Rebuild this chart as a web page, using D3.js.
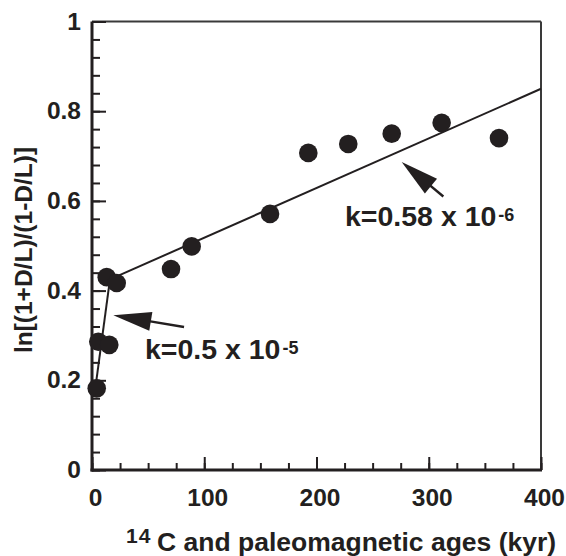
<!DOCTYPE html>
<html>
<head>
<meta charset="utf-8">
<script src="https://cdn.jsdelivr.net/npm/d3@7"></script>
<style>
  body { margin: 0; background: #fff; }
  text { font-family: "Liberation Sans", Arial, Helvetica, sans-serif; font-weight: bold; fill: #231f20; }
</style>
</head>
<body>
<div id="chart"></div>
<script>
// racemization data (age in kyr, ln[(1+D/L)/(1-D/L)])
var ages   = [4.2, 5.6, 15.4, 13.1, 22, 70.4, 88.8, 158.6, 192.7, 228.3, 267, 311.5, 362.6];
var values = [0.182, 0.286, 0.279, 0.430, 0.417, 0.448, 0.4985, 0.571, 0.707, 0.727, 0.75, 0.774, 0.740];

// two fitted rate lines: fast (young) and slow (old)
var fastLine = [[3, 0.183], [16, 0.425]];
var slowLine = [[16, 0.425], [400, 0.850]];

// tick values
var xMajor = [0, 100, 200, 300, 400];
var xMinor = d3.range(0, 401, 25);
var yMajor = [0, 0.2, 0.4, 0.6, 0.8, 1];
var yMinor = d3.range(0, 1.001, 0.04);
var yTickLabels = ["0", "0.2", "0.4", "0.6", "0.8", "1"];

// annotations: label start, arrow tip, arrow tail (data units)
var labels   = ["k=0.5 x 10", "k=0.58 x 10"];
var exponent = ["-5", "-6"];
var labelAt  = [[47.2, 0.248], [225.4, 0.543]];
var arrowTip = [[19.0, 0.345], [275.9, 0.687]];
var arrowTail = [[82, 0.319], [313, 0.610]];

var width = 566, height = 556;
var pLeft = 92, pRight = 541, pTop = 21.5, pBottom = 470;

var svg = d3.select("#chart").append("svg")
    .attr("width", width)
    .attr("height", height);

var x = d3.scaleLinear().domain([0, 400]).range([pLeft, pRight]);
var y = d3.scaleLinear().domain([0, 1]).range([pBottom, pTop]);

// frame: thin top/right, heavy left/bottom
svg.append("line").attr("x1", pLeft).attr("x2", pRight).attr("y1", pTop).attr("y2", pTop)
  .style("stroke", "#3a3a3a").style("stroke-width", 2);
svg.append("line").attr("x1", pRight).attr("x2", pRight).attr("y1", pTop).attr("y2", pBottom)
  .style("stroke", "#3a3a3a").style("stroke-width", 2);

// minor ticks (inward)
svg.append("g").attr("transform", "translate(0," + pBottom + ")")
  .call(d3.axisBottom(x).tickValues(xMinor).tickSize(-7).tickSizeOuter(0).tickFormat(""));
svg.append("g").attr("transform", "translate(" + pLeft + ",0)")
  .call(d3.axisLeft(y).tickValues(yMinor).tickSize(-8).tickSizeOuter(0).tickFormat(""));

// major ticks with labels
var xAxis = svg.append("g").attr("transform", "translate(0," + pBottom + ")")
  .call(d3.axisBottom(x).tickValues(xMajor).tickSize(-13).tickSizeOuter(0).tickPadding(0).tickFormat(d3.format("d")));
var yAxis = svg.append("g").attr("transform", "translate(" + pLeft + ",0)")
  .call(d3.axisLeft(y).tickValues(yMajor).tickSize(-14).tickSizeOuter(0).tickPadding(0)
    .tickFormat(function(d, i) { return yTickLabels[i]; }));

svg.selectAll(".domain").remove();
svg.selectAll(".tick line").style("stroke", "#231f20").style("stroke-width", 2);
svg.selectAll(".tick text").style("font-size", "24.5px").style("font-family", null).attr("fill", "#231f20");
xAxis.selectAll(".tick text").attr("y", 36).attr("dy", 0).attr("dx", 3);
yAxis.selectAll(".tick text").attr("x", -11).attr("dy", 7.5);

// heavy axes drawn over the tick roots
svg.append("line").attr("x1", pLeft).attr("x2", pLeft).attr("y1", pTop).attr("y2", pBottom + 1.5)
  .style("stroke", "#231f20").style("stroke-width", 3);
svg.append("line").attr("x1", pLeft - 1.5).attr("x2", pRight + 1).attr("y1", pBottom).attr("y2", pBottom)
  .style("stroke", "#231f20").style("stroke-width", 3);

// fitted lines
var line = d3.line().x(function(d) { return x(d[0]); }).y(function(d) { return y(d[1]); });
[fastLine, slowLine].forEach(function(l) {
  svg.append("path").attr("d", line(l))
    .style("fill", "none").style("stroke", "#231f20").style("stroke-width", 2);
});

// data points
svg.selectAll("circle.pt").data(ages).enter().append("circle")
  .attr("class", "pt")
  .attr("cx", function(d) { return x(d); })
  .attr("cy", function(d, i) { return y(values[i]); })
  .attr("r", 9.3)
  .style("fill", "#231f20");

// arrows + labels
var headLen = 38, headW = 9.5;
for (var i = 0; i < labels.length; i++) {
  var tx = x(arrowTip[i][0]), ty = y(arrowTip[i][1]);
  var sx = x(arrowTail[i][0]), sy = y(arrowTail[i][1]);
  var dx = tx - sx, dy = ty - sy, len = Math.sqrt(dx*dx + dy*dy);
  var ux = dx/len, uy = dy/len;
  var bx = tx - ux*headLen, by = ty - uy*headLen;
  svg.append("line").attr("x1", sx).attr("y1", sy).attr("x2", bx + ux*2).attr("y2", by + uy*2)
    .style("stroke", "#231f20").style("stroke-width", 2.5);
  svg.append("polygon")
    .attr("points", [[tx, ty], [bx - uy*headW, by + ux*headW], [bx + uy*headW, by - ux*headW]].join(" "))
    .style("fill", "#231f20");

  var t = svg.append("text")
    .attr("x", x(labelAt[i][0]))
    .attr("y", y(labelAt[i][1]))
    .style("font-size", "28.5px");
  t.append("tspan").text(labels[i]);
  t.append("tspan").attr("dx", 2).attr("dy", -5).style("font-size", "18px").text(exponent[i]);
}

// axis titles
var xt = svg.append("text").attr("y", 551);
xt.append("tspan").attr("x", 126).attr("dy", -8.5).style("font-size", "21px").style("letter-spacing", "1px").text("14");
xt.append("tspan").attr("x", 157).attr("dy", 8.5).style("font-size", "26.5px").text("C and paleomagnetic ages (kyr)");

svg.append("text")
  .attr("transform", "translate(32,250) rotate(-90)")
  .attr("text-anchor", "middle")
  .style("font-size", "24.5px")
  .text("ln[(1+D/L)/(1-D/L)]");
</script>
</body>
</html>
